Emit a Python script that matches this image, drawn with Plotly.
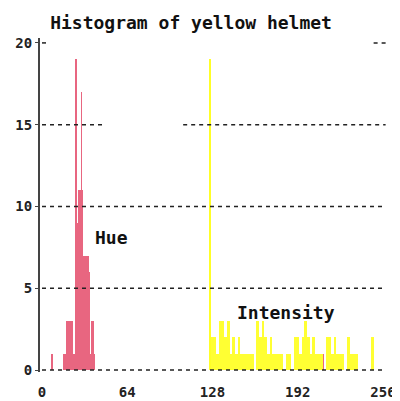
import plotly.graph_objects as go

# ---- data ----
hue_bins = [7, 16, 17, 18, 19, 20, 21, 22, 23, 24, 25, 26, 27, 28, 29, 30,
            31, 32, 33, 34, 35, 36, 37, 38, 39, 211]
hue_counts = [1, 1, 1, 3, 3, 3, 3, 3, 1, 1, 19, 9, 11, 11, 17, 11,
              7, 7, 7, 7, 6, 1, 3, 3, 1, 1]

int_peak_bin = [126]
int_peak_count = [19]
int_bins = list(range(128, 250, 2))
int_counts = [2, 2, 1, 3, 3, 2, 3, 1, 2, 1, 2, 1, 1, 1, 1, 1, 0, 3, 2, 3,
              2, 1, 2, 1, 1, 1, 1, 0, 1, 1, 0, 2, 2, 1, 2, 3, 2, 1, 2, 1,
              1, 1, 0, 2, 2, 1, 2, 1, 1, 1, 0, 2, 1, 1, 1, 0, 0, 0, 0, 0, 2]

x_tick_vals = [0, 64, 128, 192, 256]
y_tick_vals = [0, 5, 10, 15, 20]

# gridline segments (y, x_start, x_end)
grid_segments = [(0, 0, 258), (5, 0, 258), (10, 0, 258),
                 (15, 0, 48), (15, 106, 258), (20, 0, 6), (20, 249, 258)]

fig = go.Figure()

fig.add_trace(go.Bar(x=int_bins, y=int_counts, width=2,
                     marker=dict(color="rgba(255,255,0,0.8)", line=dict(width=0)),
                     showlegend=False))
fig.add_trace(go.Bar(x=int_peak_bin, y=int_peak_count, width=1.4,
                     marker=dict(color="rgba(255,255,0,0.85)", line=dict(width=0)),
                     showlegend=False))
fig.add_trace(go.Bar(x=[b + 0.5 for b in hue_bins], y=hue_counts, width=1,
                     marker=dict(color="rgba(220,20,60,0.65)", line=dict(width=0)),
                     showlegend=False))

for (yv, x0, x1) in grid_segments:
    fig.add_shape(type="line", x0=x0, x1=x1, y0=yv, y1=yv, xref="x", yref="y",
                  line=dict(color="#222", width=1.5, dash="4px,4px"), layer="above")

label_font = dict(family="DejaVu Sans Mono", size=18, color="#111", weight="bold")
fig.add_annotation(x=38, y=8.1, text="Hue", showarrow=False, xanchor="left",
                   font=label_font)
fig.add_annotation(x=183, y=3.5, text="Intensity", showarrow=False,
                   font=label_font)

# page body has an 8px margin, so the figure is sized/offset to compensate
fig.update_layout(
    width=392, height=393,
    margin=dict(l=32, r=10, t=30, b=29, autoexpand=False),
    paper_bgcolor="white", plot_bgcolor="white",
    barmode="overlay", bargap=0,
    title=dict(text="Histogram of yellow helmet", x=0.467, xanchor="center",
               y=0.962, yanchor="middle",
               font=dict(family="DejaVu Sans Mono", size=18, color="#111", weight="bold")),
)
fig.update_xaxes(range=[-1.5, 261.3], tickvals=x_tick_vals,
                 ticktext=[str(v) for v in x_tick_vals], automargin=False,
                 showgrid=False, zeroline=False, showline=False, ticks="",
                 ticklabelstandoff=10,
                 tickfont=dict(family="DejaVu Sans Mono", size=14, color="#222", weight="bold"))
fig.update_yaxes(range=[-0.12, 20.3], tickvals=y_tick_vals,
                 ticktext=[str(v) for v in y_tick_vals], automargin=False,
                 showgrid=False, zeroline=False, showline=True, linecolor="#444", linewidth=2,
                 ticks="outside", ticklen=3, tickcolor="#444", tickwidth=1,
                 ticklabelstandoff=0,
                 tickfont=dict(family="DejaVu Sans Mono", size=14, color="#222", weight="bold"))

fig.write_html("out.html")
